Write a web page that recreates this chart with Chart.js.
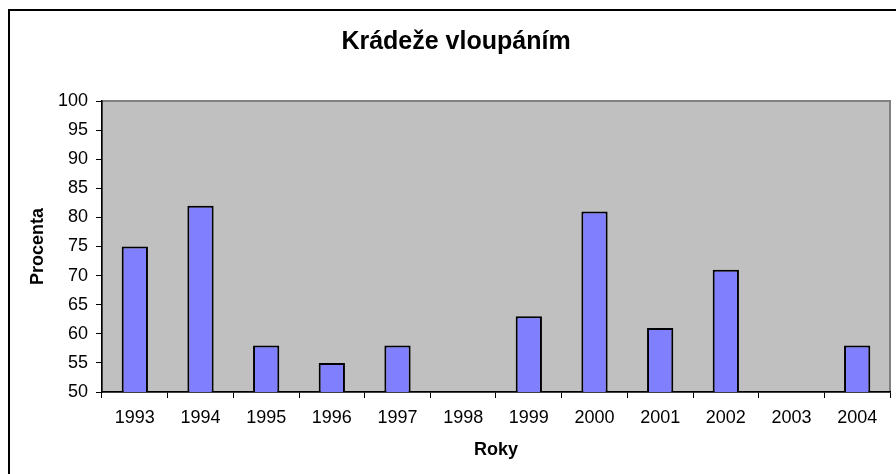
<!DOCTYPE html>
<html>
<head>
<meta charset="utf-8">
<script src="https://cdn.jsdelivr.net/npm/chart.js@4/dist/chart.umd.min.js"></script>
<style>
  html, body { margin: 0; padding: 0; background: #fff; }
  #wrap { width: 896px; height: 474px; }
</style>
</head>
<body>
<div id="wrap"><canvas id="chart" width="896" height="474"></canvas></div>
<script>
// data
const roky = ['1993', '1994', '1995', '1996', '1997', '1998', '1999', '2000', '2001', '2002', '2003', '2004'];
const procenta = [75, 82, 58, 55, 58, null, 63, 81, 61, 71, null, 58];
const yMin = 50, yMax = 100, yStep = 5;

const FONT = 'Arial, "Liberation Sans", sans-serif';

// gray plot area + outer frame, like the old Excel chart
const frame = {
  id: 'frame',
  beforeDraw(chart) {
    const ctx = chart.ctx;
    const a = chart.chartArea;
    ctx.save();
    ctx.fillStyle = '#fff';
    ctx.fillRect(0, 0, chart.width, chart.height);
    ctx.fillStyle = '#C0C0C0';
    ctx.fillRect(a.left, a.top, a.right - a.left, a.bottom - a.top);
    ctx.strokeStyle = '#808080';
    ctx.lineWidth = 2;
    ctx.strokeRect(a.left, a.top, a.right - a.left, a.bottom - a.top);
    ctx.strokeStyle = '#000';
    ctx.lineWidth = 2;
    ctx.strokeRect(9, 10, chart.width + 20, chart.height + 20);
    ctx.restore();
  }
};

new Chart(document.getElementById('chart'), {
  type: 'bar',
  data: {
    labels: roky,
    datasets: [{
      label: 'Procenta',
      data: procenta,
      backgroundColor: '#8080FF',
      borderColor: '#000',
      borderWidth: 2,
      borderSkipped: false,
      categoryPercentage: 1,
      barPercentage: 0.4
    }]
  },
  options: {
    responsive: false,
    animation: false,
    layout: { padding: { left: 22, right: 6, top: 0, bottom: 0 } },
    plugins: {
      legend: { display: false },
      tooltip: { enabled: false },
      title: {
        display: true,
        text: 'Krádeže vloupáním',
        color: '#000',
        font: { family: FONT, size: 25, weight: 'bold', lineHeight: 1.2 },
        padding: { top: 27, bottom: 44 }
      }
    },
    scales: {
      x: {
        grid: { offset: true, drawOnChartArea: false, tickLength: 6, tickColor: '#000', tickWidth: 1 },
        border: { color: '#000', width: 1.5 },
        ticks: { color: '#000', font: { family: FONT, size: 18 }, padding: 9, maxRotation: 0 },
        title: { display: true, text: 'Roky', color: '#000', font: { family: FONT, size: 18, weight: 'bold' }, padding: { top: 0, bottom: 13 } },
        afterFit(scale) { scale.height = 82; }
      },
      y: {
        min: yMin,
        max: yMax,
        grid: { drawOnChartArea: false, tickLength: 6, tickColor: '#000', tickWidth: 1 },
        border: { color: '#000', width: 1.5 },
        ticks: { stepSize: yStep, color: '#000', font: { family: FONT, size: 18 }, padding: 8 },
        title: { display: true, text: 'Procenta', color: '#000', font: { family: FONT, size: 18, weight: 'bold' }, padding: { top: 5, bottom: 0 } },
        afterFit(scale) { scale.width = 80; }
      }
    }
  },
  plugins: [frame]
});
</script>
</body>
</html>
